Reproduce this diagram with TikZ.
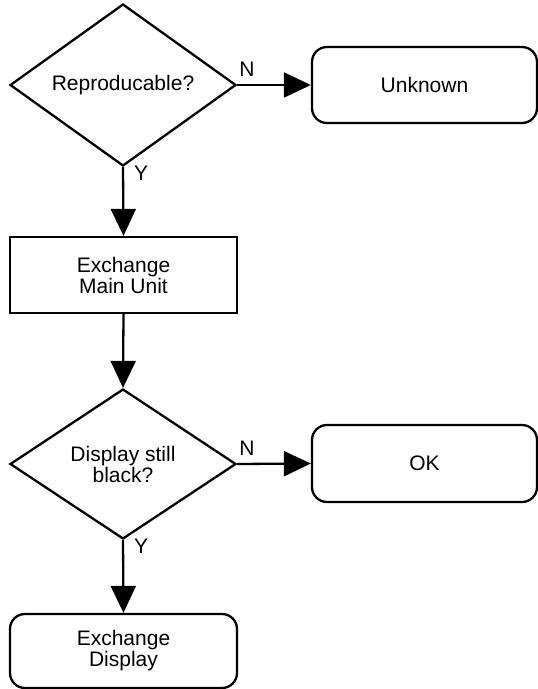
\documentclass[tikz,border=0pt]{standalone}
\usepackage{fontspec}
\setmainfont{Liberation Sans}
\usetikzlibrary{shapes.geometric,arrows.meta}
\begin{document}
\begin{tikzpicture}[x=1pt,y=-1pt,line width=2.3pt,font=\fontsize{21}{21}\selectfont,
		decision/.style={draw,diamond,minimum width=226pt,minimum height=151pt,inner sep=0pt,align=center},
		action/.style={draw,rectangle,minimum width=227pt,minimum height=76pt,inner sep=0pt,align=center},
		terminal/.style={action,rounded corners=15pt},
		flow/.style={-{Triangle[length=27pt,width=25pt]}},
		lbl/.style={inner sep=2pt}]
	\useasboundingbox (0,0) rectangle (538,689);
	\node[decision] (repro) at (123,85) {Reproducable?};
	\node[terminal,minimum width=225pt] (unknown) at (424.5,85) {Unknown};
	\node[action] (mainunit) at (123.5,275) {Exchange\\Main Unit};
	\node[decision,minimum height=150pt] (stillblack) at (123,464) {Display still\\black?};
	\node[terminal,minimum width=225pt,minimum height=77pt] (ok) at (424.5,463.5) {OK};
	\node[terminal,minimum height=74pt] (display) at (123.5,651) {Exchange\\Display};
	% yes / no branches
	\draw[flow] (repro.east) -- (unknown.west) node[pos=0,above right,lbl,xshift=-1pt,yshift=5pt]{N};
	\draw[flow] (repro.south) -- (mainunit.north) node[pos=0,below right,lbl,xshift=8pt,yshift=4pt]{Y};
	\draw[flow] (mainunit.south) -- (stillblack.north);
	\draw[flow] (stillblack.east) -- (ok.west) node[pos=0,above right,lbl,xshift=-1pt,yshift=5pt]{N};
	\draw[flow] (stillblack.south) -- (display.north) node[pos=0,below right,lbl,xshift=8pt,yshift=4pt]{Y};
\end{tikzpicture}
\end{document}
